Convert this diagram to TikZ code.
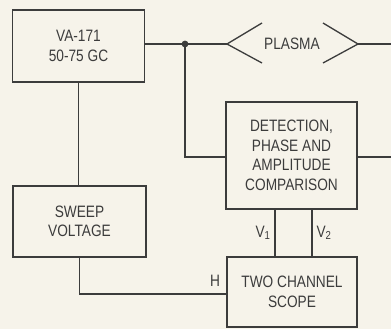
\documentclass[tikz,border=0pt]{standalone}
\usepackage{fontspec}
\setmainfont{Liberation Sans}[FakeStretch=0.83]
\usepackage{xcolor}
\usetikzlibrary{positioning}
\definecolor{cpaper}{HTML}{F6F3EA}
\definecolor{cink}{HTML}{3C3C3C}

\begin{document}
\begin{tikzpicture}[x=1pt, y=-1pt,
    block/.style={draw=cink, line width=1.3pt, align=center, text=cink,
                  font=\fontsize{16.5}{19.5}\selectfont, inner sep=0pt},
    wire/.style={draw=cink, line width=1.3pt},
    tag/.style={text=cink, font=\fontsize{16.5}{18}\selectfont}]
    \fill[cpaper] (0,0) rectangle (391,329);
    \useasboundingbox (0,0) rectangle (391,329);

    % blocks
    \node[block, minimum width=132pt, minimum height=72pt] (va) at (78.5,46) {VA-171\\50-75 GC};
    \node[block, minimum width=133pt, minimum height=71pt] (sweep) at (79.5,221.5) {SWEEP\\VOLTAGE};
    \node[block, minimum width=131pt, minimum height=107pt] (detect) at (291.5,155.5)
      {DETECTION,\\PHASE AND\\AMPLITUDE\\COMPARISON};
    \node[block, minimum width=130pt, minimum height=70pt] (scope) at (292,292) {TWO CHANNEL\\SCOPE};

    % plasma
    \coordinate (plasmaL) at (227,44);
    \coordinate (plasmaR) at (358,44);
    \draw[wire] (262,23) -- (plasmaL) -- (262,63);
    \draw[wire] (323,23) -- (plasmaR) -- (323,63);
    \node[tag] (plasma) at (292,44) {PLASMA};

    % connections
    \coordinate (split) at (185,44);
    \coordinate (outA) at (391,44);
    \coordinate (outB) at (391,157);
    \draw[wire] (va.east |- split) -- (split) -- (plasmaL);
    \draw[wire] (plasmaR) -- (outA);
    \fill[cink] (split) circle (3.4pt);
    \draw[wire] (split) |- (detect.west |- 0,157);
    \draw[wire] (detect.east |- outB) -- (outB);
    \draw[wire] (va.south) -- (va.south |- sweep.north);
    \draw[wire] (sweep.south) |- (scope.west |- 0,294);
    \draw[wire] (275,209) -- (275,257);
    \draw[wire] (312,209) -- (312,257);

    % labels
    \node[tag] (v1) at (263,233) {V\textsubscript{1}};
    \node[tag] (v2) at (324,233) {V\textsubscript{2}};
    \node[tag] (h) at (215,281) {H};
\end{tikzpicture}
\end{document}
